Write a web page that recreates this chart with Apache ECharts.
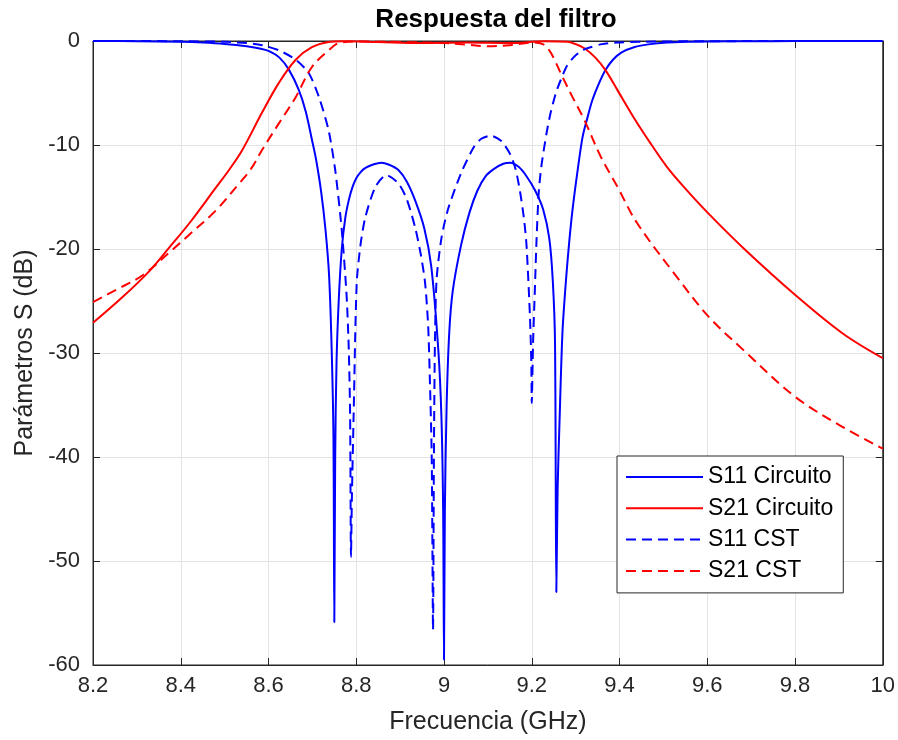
<!DOCTYPE html>
<html>
<head>
<meta charset="utf-8">
<script src="https://cdn.jsdelivr.net/npm/echarts@6/dist/echarts.min.js"></script>
<style>
html,body{margin:0;padding:0;background:#fff;}
#chart{width:898px;height:740px;}
</style>
</head>
<body>
<div id="chart"></div>
<script>
// ---- data ----
const titleText = 'Respuesta del filtro';
const xName = 'Frecuencia (GHz)';
const yName = 'Parámetros S (dB)';
const seriesNames = ['S11 Circuito', 'S21 Circuito', 'S11 CST', 'S21 CST'];

const s11cFreq = [8.2,8.3,8.4,8.45,8.5,8.55,8.58,8.6,8.625,8.647,8.669,8.685,8.699,8.708,8.72,8.73,8.738,8.744,8.748,8.75,8.752,8.755,8.76,8.767,8.775,8.783,8.791,8.8,8.81,8.821,8.84,8.857,8.875,8.896,8.915,8.934,8.955,8.971,8.987,8.994,8.998,9.0,9.002,9.006,9.012,9.02,9.039,9.058,9.076,9.095,9.114,9.135,9.151,9.17,9.188,9.208,9.226,9.24,9.248,9.253,9.256,9.259,9.263,9.27,9.278,9.285,9.293,9.305,9.316,9.328,9.338,9.352,9.368,9.385,9.405,9.433,9.47,9.508,9.56,9.6,9.7,9.8,10];
const s11cVal  = [0,-0.02,-0.08,-0.15,-0.28,-0.5,-0.72,-0.95,-1.6,-2.8,-4.7,-6.8,-9.5,-11.3,-14.5,-18.2,-22.5,-29.7,-38,-55.9,-40,-31,-25,-20,-17,-15.3,-14.1,-13.2,-12.6,-12.2,-11.85,-11.7,-11.9,-12.4,-13.5,-15.3,-18,-21.7,-29.7,-36,-45,-59.5,-45,-35,-28,-24,-19.6,-16.5,-14.4,-13,-12.3,-11.8,-11.7,-12.1,-13,-14.4,-16.2,-19,-23.1,-29,-53,-43,-37,-28,-23,-19.5,-16.2,-12.3,-9.2,-7.2,-5.7,-4.2,-2.8,-1.8,-1.1,-0.6,-0.3,-0.15,-0.07,-0.04,-0.02,-0.01,0];

const s21cFreq = [8.2,8.268,8.329,8.375,8.42,8.48,8.51,8.54,8.585,8.624,8.662,8.699,8.737,8.77,8.85,8.95,9.05,9.15,9.23,9.281,9.3,9.32,9.345,9.368,9.395,9.433,9.47,9.508,9.546,9.603,9.682,9.8,9.908,10];
const s21cVal  = [-27.1,-24.6,-22.1,-19.8,-17.5,-14.1,-12.4,-10.5,-6.9,-4,-1.8,-0.6,-0.1,-0.02,-0.1,-0.2,-0.15,-0.2,-0.02,-0.07,-0.3,-0.7,-1.6,-2.8,-4.7,-7.4,-9.8,-12.1,-14,-16.6,-19.9,-24.4,-28.1,-30.5];

const s11cstFreq = [8.2,8.4,8.5,8.55,8.585,8.624,8.662,8.692,8.715,8.737,8.752,8.767,8.778,8.783,8.786,8.788,8.79,8.794,8.801,8.81,8.821,8.844,8.869,8.896,8.915,8.934,8.947,8.957,8.964,8.968,8.972,8.975,8.977,8.979,8.983,8.994,9.009,9.039,9.068,9.085,9.106,9.13,9.151,9.163,9.173,9.182,9.188,9.196,9.199,9.2,9.203,9.207,9.211,9.216,9.222,9.234,9.243,9.255,9.266,9.28,9.297,9.315,9.334,9.36,9.395,9.45,9.55,9.7,10];
const s11cstVal  = [0,-0.02,-0.08,-0.2,-0.4,-0.9,-1.8,-3.1,-5.4,-8.6,-12.4,-18.2,-24.5,-29.7,-36,-49.6,-44,-36,-23.3,-19.5,-16.9,-14,-12.9,-13.7,-15.2,-17.9,-20.5,-23.3,-27.5,-32.9,-40,-56.6,-40,-30,-23,-19,-16.2,-12.7,-10.2,-9.4,-9.1,-9.6,-10.9,-12.3,-14.4,-17,-19.6,-26.6,-31,-34.8,-29,-24,-19,-14.5,-12,-8.8,-6.9,-5,-3.75,-2.4,-1.5,-0.9,-0.6,-0.3,-0.15,-0.07,-0.03,-0.01,0];

const s21cstFreq = [8.2,8.254,8.314,8.375,8.42,8.48,8.533,8.56,8.585,8.624,8.662,8.699,8.737,8.76,8.8,8.9,9.0,9.05,9.1,9.15,9.2,9.225,9.24,9.253,9.266,9.293,9.32,9.357,9.395,9.44,9.531,9.603,9.682,9.8,9.908,10];
const s21cstVal  = [-25.1,-23.9,-22.5,-20.3,-18.6,-16.3,-13.7,-12.3,-10.5,-7.9,-5.4,-2.5,-0.9,-0.2,-0.05,-0.1,-0.2,-0.35,-0.5,-0.4,-0.15,-0.3,-0.9,-1.9,-3.1,-5.4,-7.6,-11.1,-14,-17.5,-22.7,-26.5,-29.7,-34.2,-37.1,-39.2];

// ---- chart ----
const FONT = '"Liberation Sans", Arial, Helvetica, sans-serif';
const zip = (a, b) => a.map((v, i) => [v, b[i]]);
const axisCol = '#262626';

function mkLine(name, f, v, color, dashed, smooth) {
  return {
    name: name, type: 'line', data: zip(f, v),
    symbol: 'none', showSymbol: false, smooth: smooth,
    clip: true, animation: false,
    lineStyle: { color: color, width: 2, type: dashed ? [10, 6] : 'solid' },
    itemStyle: { color: color }
  };
}

const chart = echarts.init(document.getElementById('chart'), null, { renderer: 'canvas' });
const xFmt = v => String(+(+v).toFixed(1));

chart.setOption({
  animation: false,
  backgroundColor: '#ffffff',
  title: {
    text: titleText, left: 491, top: 2, textAlign: 'center',
    textStyle: { fontFamily: FONT, fontSize: 26, fontWeight: 'bold', color: '#000' }
  },
  grid: { left: 93, right: 11, top: 41, bottom: 75, show: true, borderColor: axisCol, borderWidth: 1, backgroundColor: 'transparent' },
  legend: {
    data: seriesNames, orient: 'vertical', left: 617, top: 456,
    padding: [8, 10, 9, 8], itemWidth: 77, itemHeight: 26, itemGap: 5.3,
    backgroundColor: '#fff', borderColor: axisCol, borderWidth: 1,
    itemStyle: { opacity: 0 },
    lineStyle: { width: 2 },
    textStyle: { fontFamily: FONT, fontSize: 23, color: '#000', lineHeight: 26 },
    selectedMode: false
  },
  xAxis: [{
    type: 'value', min: 8.2, max: 10, interval: 0.2,
    name: xName, nameLocation: 'middle', nameGap: 45,
    nameTextStyle: { fontFamily: FONT, fontSize: 25, color: axisCol },
    axisLine: { show: true, onZero: false, lineStyle: { color: axisCol, width: 1 } },
    axisTick: { show: true, inside: true, length: 7, lineStyle: { color: axisCol } },
    axisLabel: { fontFamily: FONT, fontSize: 22, color: axisCol, margin: 10, formatter: xFmt, showMinLabel: true, showMaxLabel: true },
    splitLine: { show: true, lineStyle: { color: '#e3e3e3', width: 1 } }
  }, {
    type: 'value', position: 'top', min: 8.2, max: 10, interval: 0.2,
    axisLine: { show: true, onZero: false, lineStyle: { color: axisCol, width: 1 } },
    axisTick: { show: true, inside: true, length: 7, lineStyle: { color: axisCol } },
    axisLabel: { show: false }, splitLine: { show: false }
  }],
  yAxis: [{
    type: 'value', min: -60, max: 0, interval: 10,
    name: yName, nameLocation: 'middle', nameGap: 54,
    nameTextStyle: { fontFamily: FONT, fontSize: 25, color: axisCol },
    axisLine: { show: true, onZero: false, lineStyle: { color: axisCol, width: 1 } },
    axisTick: { show: true, inside: true, length: 7, lineStyle: { color: axisCol } },
    axisLabel: { fontFamily: FONT, fontSize: 22, color: axisCol, margin: 13 },
    splitLine: { show: true, lineStyle: { color: '#e3e3e3', width: 1 } }
  }, {
    type: 'value', position: 'right', min: -60, max: 0, interval: 10,
    axisLine: { show: true, onZero: false, lineStyle: { color: axisCol, width: 1 } },
    axisTick: { show: true, inside: true, length: 7, lineStyle: { color: axisCol } },
    axisLabel: { show: false }, splitLine: { show: false }
  }],
  series: [
    mkLine(seriesNames[0], s11cFreq, s11cVal, '#0000ff', false, 0.3),
    mkLine(seriesNames[1], s21cFreq, s21cVal, '#ff0000', false, 0.35),
    mkLine(seriesNames[2], s11cstFreq, s11cstVal, '#0000ff', true, 0.25),
    mkLine(seriesNames[3], s21cstFreq, s21cstVal, '#ff0000', true, 0.35)
  ]
});
</script>
</body>
</html>
